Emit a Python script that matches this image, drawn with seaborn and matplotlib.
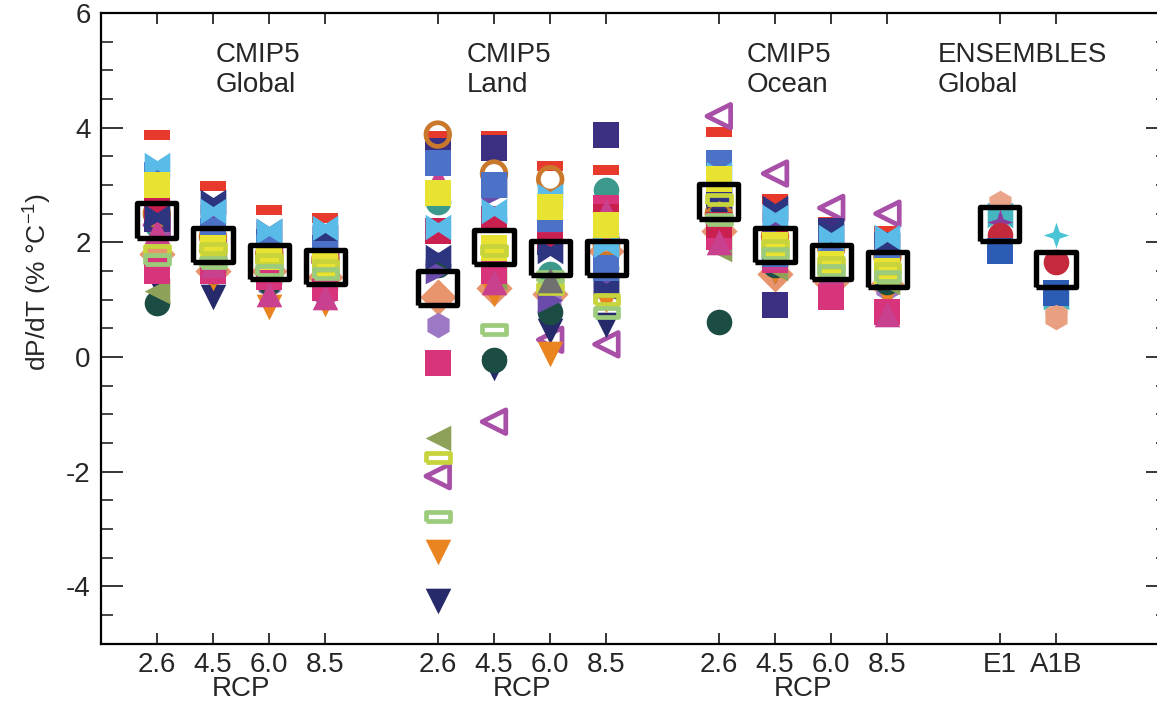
import numpy as np
import pandas as pd
import matplotlib
matplotlib.use("Agg")
import matplotlib.pyplot as plt
from matplotlib.ticker import MultipleLocator, FixedLocator
import seaborn as sns

# slot positions on the x axis and their labels
positions = [0, 1, 2, 3, 5, 6, 7, 8, 10, 11, 12, 13, 15, 16]
tick_labels = ["2.6", "4.5", "6.0", "8.5"] * 3 + ["E1", "A1B"]
rcp_centres = [1.5, 6.5, 11.5]

panel_titles = ["CMIP5\nGlobal", "CMIP5\nLand", "CMIP5\nOcean", "ENSEMBLES\nGlobal"]
panel_title_x = [1.04, 5.52, 10.5, 13.9]

# CMIP5 models (drawn in this order): colour, marker, filled
cmip5_colors = ["#3b9a8c", "#e8946c", "#9d78c4", "#707070",
                "#e83a2c", "#a84fa8", "#262a6a", "#ea8420", "#1c4d45", "#8ea158",
                "#d8347c", "#3b2f82", "#c9782c", "#c92050", "#6b4ba9", "#c8408e",
                "#2d3580", "#4b72c6", "#5bbbe8", "#e8e232", "#c7d43c", "#9ccb7c"]
cmip5_markers = ["circle", "diamond", "hexagon", "tri_up",
                 "bar", "tri_left", "tri_down", "tri_down", "circle", "tri_left",
                 "square", "square", "circle", "square", "tri_right", "tri_up",
                 "bowtie", "square", "bowtie", "square", "bar", "bar"]
cmip5_filled = [True, True, True, True,
                True, False, True, True, True, True,
                True, True, False, True, True, True,
                True, True, True, True, False, False]

# dP/dT per model for RCP 2.6, 4.5, 6.0, 8.5
nan = np.nan
cmip5_global = [
    [2.30, 2.00, 1.70, 1.60], [1.80, 1.50, 1.50, 1.40], [1.60, 1.70, 1.25, 1.10],
    [nan, nan, nan, nan],
    [3.88, 2.98, 2.57, 2.42], [2.30, 1.85, 1.70, 1.65], [1.30, 1.05, 1.20, 1.15],
    [1.50, 1.38, 0.88, 0.92], [0.94, 1.50, 1.30, 1.50], [1.15, 1.75, 1.55, 1.40],
    [1.50, 1.50, 1.40, 1.20], [2.40, 2.10, 2.00, 1.90], [2.50, 2.10, 1.80, 1.70],
    [2.60, 2.00, 1.85, 1.70], [3.10, 2.45, 2.15, 2.05], [2.20, 1.60, 1.10, 1.05],
    [2.45, 2.70, 2.20, 2.10], [3.18, 2.20, 1.90, 1.80], [3.35, 2.55, 2.20, 2.25],
    [3.00, 1.90, 1.75, 1.60], [1.85, 1.90, 1.70, 1.60], [1.70, 1.65, 1.50, 1.45]]
cmip5_land = [
    [2.70, 2.40, 1.45, 2.92], [1.05, 1.20, 1.10, 1.85], [0.55, 1.60, 1.00, 1.40],
    [nan, nan, 1.35, nan],
    [3.85, 3.85, 3.33, 3.27], [-2.08, -1.13, 0.30, 0.22], [-4.25, -0.20, 0.45, 0.55],
    [-3.40, 1.10, 0.05, 1.00], [1.60, -0.05, 0.78, 1.55], [-1.42, 1.40, 1.30, 1.20],
    [-0.10, 1.50, 2.27, 2.60], [3.60, 3.65, 2.00, 3.88], [3.88, 3.20, 3.10, 2.00],
    [2.20, 2.40, 2.10, 2.45], [1.50, 2.85, 1.00, 1.30], [3.10, 1.30, 2.40, 2.55],
    [1.75, 3.00, 1.85, 1.20], [3.38, 3.00, 2.40, 1.55], [2.27, 2.55, 2.80, 1.95],
    [2.86, 1.90, 2.62, 2.30], [-1.75, 1.85, 1.20, 1.00], [-2.78, 0.48, 1.40, 0.78]]
cmip5_ocean = [
    [2.60, 2.10, 1.75, 1.60], [2.20, 1.45, 1.30, 1.25], [2.00, 1.65, 1.40, 1.20],
    [nan, nan, nan, nan],
    [3.93, 2.75, 2.35, 2.20], [4.20, 3.20, 2.60, 2.50], [2.50, 1.50, 1.25, 1.20],
    [2.20, 1.50, 1.30, 1.10], [0.61, 1.60, 1.40, 1.30], [1.88, 1.55, 1.50, 1.30],
    [2.10, 1.70, 1.05, 0.78], [2.80, 0.90, 2.20, 1.95], [2.50, 2.10, 1.90, 1.75],
    [2.30, 2.00, 1.80, 1.70], [2.90, 2.30, 2.00, 1.85], [2.00, 1.75, 1.50, 0.75],
    [2.80, 2.60, 2.20, 1.95], [3.38, 1.80, 1.70, 1.60], [3.20, 2.45, 2.10, 2.10],
    [3.10, 1.95, 1.62, 1.50], [2.75, 1.95, 1.65, 1.55], [2.40, 1.80, 1.50, 1.40]]

# ENSEMBLES models, values for E1 and A1B
ens_colors = ["#eaa58a", "#45b5c0", "#8a3c9e", "#c42a3c", "#2c5cb4", "#48c4d4", "#e8a080"]
ens_markers = ["hexagon", "bowtie", "star4", "circle", "square", "star4", "hexagon"]
ens_values = [[2.68, 0.87], [2.48, 1.05], [2.36, nan], [2.12, 1.65],
              [1.85, 1.12], [nan, 2.13], [nan, 0.70]]

# multi-model means (black open squares)
mean_values = [2.38, 1.95, 1.66, 1.57, 1.20, 1.92, 1.73, 1.73,
               2.71, 1.95, 1.66, 1.53, 2.32, 1.53]

marker_shapes = {
    "bar": [(-1, -0.38), (1, -0.38), (1, 0.38), (-1, 0.38), (-1, -0.38)],
    "tri_left": "<", "tri_right": ">", "tri_up": "^", "tri_down": "v",
    "circle": "o", "square": "s", "diamond": "D", "hexagon": "h",
    "bowtie": [(-1, -1), (-1, 1), (0, 0.35), (1, 1), (1, -1), (0, -0.35), (-1, -1)],
    "star4": [(0, 1), (0.25, 0.25), (1, 0), (0.25, -0.25), (0, -1),
              (-0.25, -0.25), (-1, 0), (-0.25, 0.25), (0, 1)],
}
box_shape = [(-1, -0.88), (1, -0.88), (1, 0.88), (-1, 0.88), (-1, -0.88)]

sns.set_style("white")
plt.rcParams["font.family"] = ["Liberation Sans", "DejaVu Sans"]
plt.rcParams["mathtext.default"] = "regular"
plt.rcParams["axes.unicode_minus"] = False

# long table of all model points
rows = []
for block, offset in [(cmip5_global, 0), (cmip5_land, 4), (cmip5_ocean, 8)]:
    for m, vals in enumerate(block):
        for k, v in enumerate(vals):
            rows.append(dict(model=f"cmip5_{m:02d}", x=positions[offset + k], val=v,
                             color=cmip5_colors[m], marker=cmip5_markers[m],
                             filled=cmip5_filled[m]))
for m, vals in enumerate(ens_values):
    for k, v in enumerate(vals):
        rows.append(dict(model=f"ens_{m}", x=positions[12 + k], val=v,
                         color=ens_colors[m], marker=ens_markers[m], filled=True))
df = pd.DataFrame(rows).dropna(subset=["val"])

fig = plt.figure(figsize=(11.57, 7.14), dpi=100)
ax = fig.add_axes([0.0869, 0.0987, 0.923, 0.883])

for model, sub in df.groupby("model", sort=False):
    c = sub["color"].iloc[0]
    mk = marker_shapes[sub["marker"].iloc[0]]
    if sub["filled"].iloc[0]:
        sns.scatterplot(data=sub, x="x", y="val", marker=mk, color=c, s=340,
                        linewidth=0, ax=ax, zorder=2)
    else:
        sns.scatterplot(data=sub, x="x", y="val", marker=mk, facecolor="none",
                        edgecolor=c, s=290, linewidth=3.4, ax=ax, zorder=2)

means = pd.DataFrame({"x": positions, "val": mean_values})
sns.scatterplot(data=means, x="x", y="val", marker=box_shape, facecolor="none",
                edgecolor="black", s=800, linewidth=3.9, ax=ax, zorder=3)

ax.set_xlim(-1, 18)
ax.set_ylim(-5, 6)
ax.xaxis.set_major_locator(FixedLocator(positions))
ax.set_xticklabels(tick_labels)
ax.yaxis.set_major_locator(MultipleLocator(2))
ax.yaxis.set_minor_locator(MultipleLocator(0.5))
ax.tick_params(axis="x", which="major", direction="in", length=8, width=1.3,
               top=True, bottom=True, labelsize=20, pad=6)
ax.tick_params(axis="y", which="major", direction="in", length=16, width=1.3,
               left=True, right=True, labelsize=20, pad=7)
ax.tick_params(axis="y", which="minor", direction="in", length=8.5, width=1.2,
               left=True, right=True)
for sp in ax.spines.values():
    sp.set_linewidth(1.6)
    sp.set_color("black")

ax.set_xlabel("")
ax.set_ylabel("dP/dT (% °C$^{-1}$)", fontsize=19)
ax.yaxis.set_label_coords(-0.044, 0.573)

for cx in rcp_centres:
    ax.text(cx, -0.052, "RCP", transform=ax.get_xaxis_transform(),
            ha="center", va="top", fontsize=20)

for tx, title in zip(panel_title_x, panel_titles):
    ax.text(tx, 5.5, title, ha="left", va="top", fontsize=20, linespacing=1.2)

fig.savefig("out.png", dpi=100)
